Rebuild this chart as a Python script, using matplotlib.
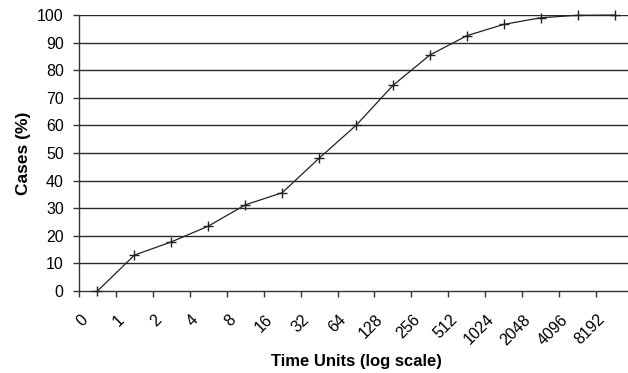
import matplotlib.pyplot as plt
import matplotlib as mpl
import matplotlib.transforms as mtransforms
import numpy as np

mpl.rcParams.update({'font.family': 'Liberation Sans', 'font.size': 11})

time_labels = ['0', '1', '2', '4', '8', '16', '32', '64', '128', '256',
               '512', '1024', '2048', '4096', '8192']
cases_pct = [0, 13.0, 17.8, 23.5, 31.2, 35.6, 48.1, 60.0, 74.5, 85.5,
             92.5, 96.6, 99.0, 99.9, 100]

fig = plt.figure(figsize=(6.28, 3.73), dpi=100)
ax = fig.add_axes([0.1258, 0.2198, 1.008 - 0.1258, 0.9598 - 0.2198])

x = np.arange(len(time_labels))
for yv in range(10, 101, 10):
    ax.axhline(yv, color='#2a2a2a', linewidth=1.0, zorder=1)
ax.plot(x, cases_pct, color='#222222', linewidth=0.9, marker='+',
        markersize=7, markeredgewidth=1.0, zorder=3, clip_on=False)

ax.set_xlim(-0.5, len(time_labels) - 0.5)
ax.set_ylim(0, 100)
ax.set_yticks(range(0, 101, 10))

ax.set_xticks(x)
ax.set_xticklabels(time_labels, rotation=45, ha='right', va='top')
ax.set_xticks(np.arange(-0.5, len(time_labels), 1.0), minor=True)
ax.tick_params(axis='x', which='major', length=0, pad=15, labelsize=11.5)
ax.tick_params(axis='x', which='minor', length=4, width=1, color='#333333', direction='out')
ax.tick_params(axis='y', length=4, width=1, color='#333333', pad=7, labelsize=11.5)

offset = mtransforms.ScaledTranslation(-5 / 72, 0, fig.dpi_scale_trans)
for lbl in ax.get_xticklabels():
    lbl.set_transform(lbl.get_transform() + offset)

for side in ['top', 'right']:
    ax.spines[side].set_visible(False)
ax.spines['left'].set_color('#333333')
ax.spines['bottom'].set_color('#333333')
ax.spines['left'].set_linewidth(1.0)
ax.spines['bottom'].set_linewidth(1.0)

ax.set_ylabel('Cases (%)', fontweight='bold', fontsize=12.5, va='center')
ax.set_xlabel('Time Units (log scale)', fontweight='bold', fontsize=12, va='center')
ax.yaxis.set_label_coords(-0.101, 0.5)
ax.xaxis.set_label_coords(0.5, -0.257)

fig.savefig('out.png', dpi=100)
